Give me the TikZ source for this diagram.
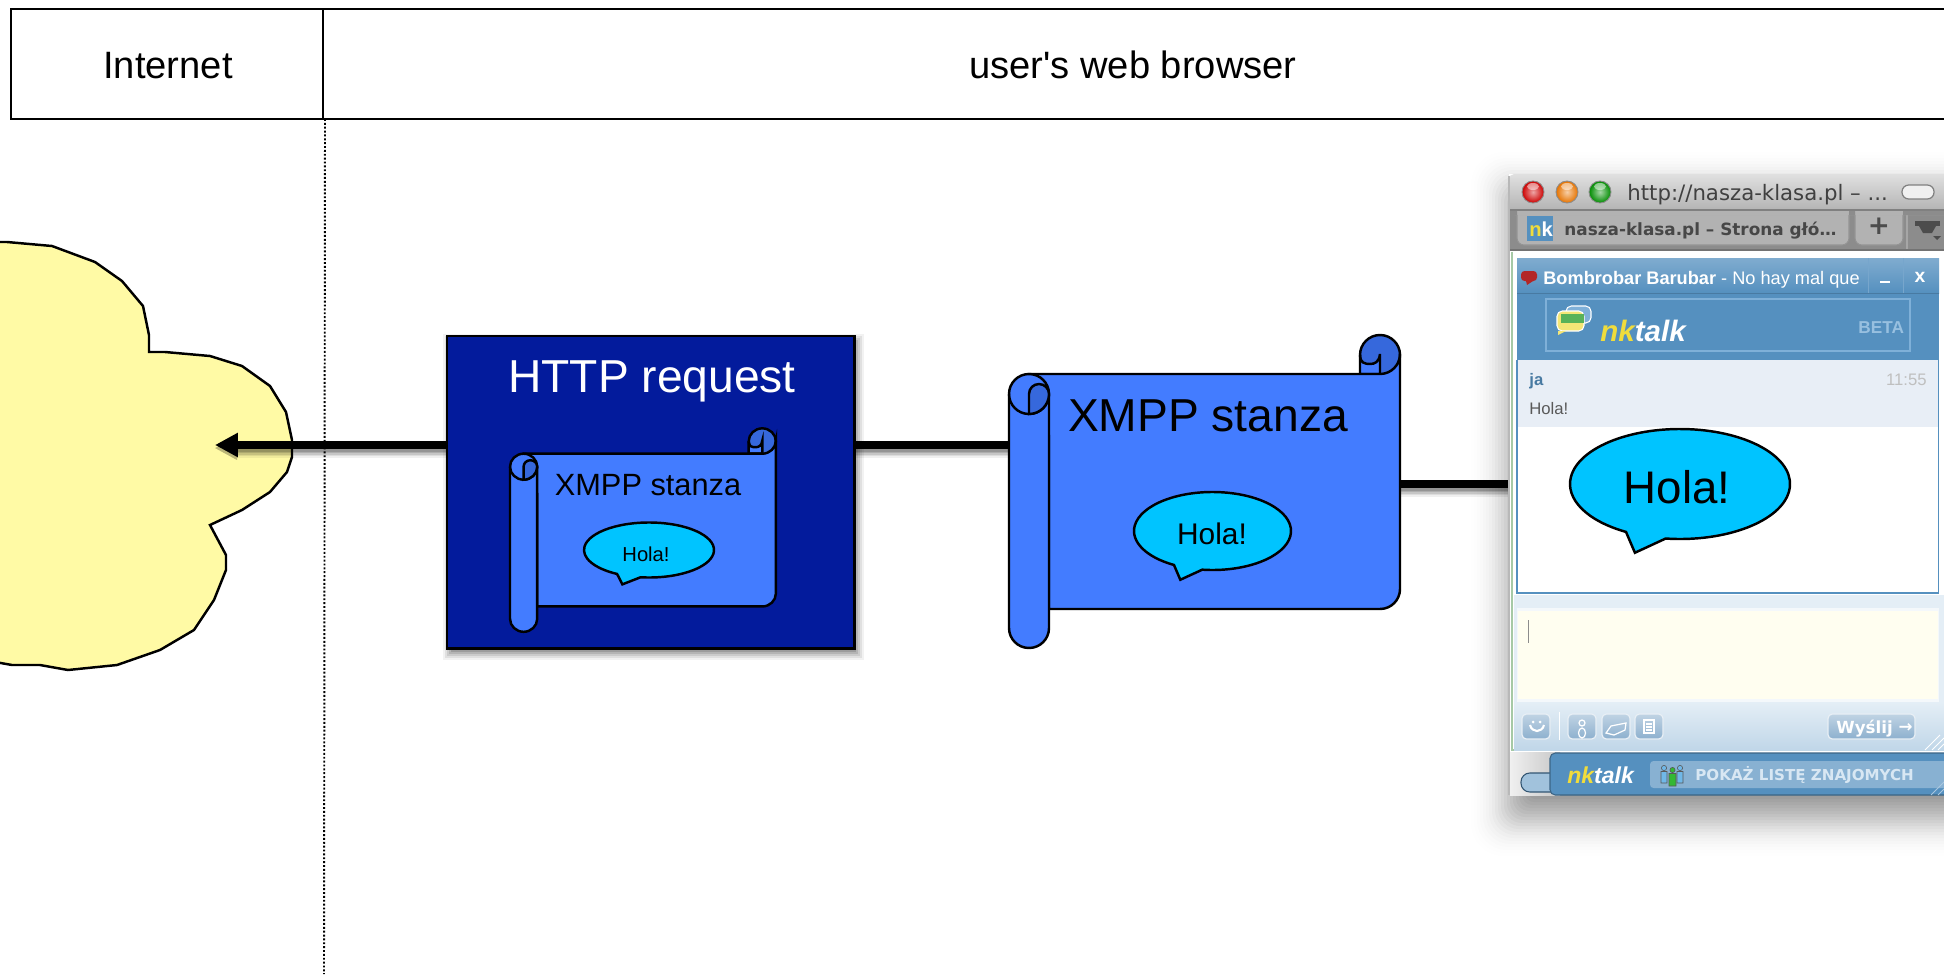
\documentclass[tikz,border=0pt]{standalone}
\usepackage{fontspec}
\setmainfont{Liberation Sans}
\newfontfamily\plainfont{Liberation Sans}
\newfontfamily\uifont{DejaVu Sans}
\usetikzlibrary{arrows.meta,calc}
\definecolor{paperblue}{HTML}{437CFF}
\definecolor{rolldark}{HTML}{3668DC}
\definecolor{bubblecyan}{HTML}{00C4FF}
\definecolor{httpblue}{HTML}{031B9C}
\definecolor{cloudyellow}{HTML}{FFFAA5}
\definecolor{nkblue}{HTML}{5590BF}
\definecolor{nkline}{HTML}{7FB0D8}
\definecolor{nkyellow}{HTML}{F0DC3C}
\definecolor{msgbg}{HTML}{E8EEF6}
\definecolor{band}{HTML}{E4EEF6}
\definecolor{inputbg}{HTML}{FFFEF0}
\definecolor{btnblue}{HTML}{8DB0CE}
\definecolor{personblue}{HTML}{70B8E8}
\newcommand{\fs}[1]{\fontsize{#1pt}{#1pt}\selectfont}
\tikzset{
  ink/.style={draw=black,line width=1.4pt},
  flow/.style={draw=black,line width=4.5pt},
  label/.style={inner sep=0pt,anchor=base,text=black},
  ui/.style={inner sep=0pt,anchor=base west},
  btn/.style={draw=white!80!btnblue,line width=.7pt,rounded corners=2.5pt,top color=btnblue!55,bottom color=btnblue},
  person/.style={draw=black!65,line width=.35pt},
}
% x, y of the top left corner, x scale, y scale
\newcommand{\stanzascroll}[4]{%
  \begin{scope}[shift={(#1,#2)},xscale=#3,yscale=-#4]
    \filldraw[ink,fill=rolldark] (371,-19) circle [radius=20];
    \filldraw[ink,fill=paperblue] (351,-19) .. controls (351,-27) and (356,-28) .. (361,-28)
       .. controls (366,-28) and (370,-26) .. (371,-18) -- (371,-38) -- (351,-38) -- cycle;
    \filldraw[ink,fill=paperblue] (20,-38) -- (371,-38) arc [start angle=270,end angle=360,radius=20]
       -- (391,-253) arc [start angle=0,end angle=-90,radius=20] -- (40,-273) -- (40,-100) -- (20,-100) -- cycle;
    \filldraw[ink,fill=paperblue] (0,-58) -- (0,-292) arc [start angle=180,end angle=360,radius=20]
       -- (40,-58) arc [start angle=0,end angle=180,radius=20] -- cycle;
    \draw[ink] (0,-58) arc [start angle=180,end angle=360,radius=20];
    \filldraw[ink,fill=rolldark] (20,-78) -- (20,-58) arc [start angle=180,end angle=0,radius=10]
       arc [start angle=0,end angle=-90,radius=20] -- cycle;
  \end{scope}}
% centre x, centre y, rx, ry
\newcommand{\speechbubble}[4]{%
  \begin{scope}[shift={(#1,#2)},xscale=#3,yscale=-#4]
    \filldraw[ink,fill=bubblecyan] (262.5:1) arc [start angle=262.5,end angle=600.6,radius=1]
       -- (-.41,-1.25) -- cycle;
  \end{scope}}
\begin{document}
\begin{tikzpicture}[x=.02cm,y=.02cm]
\useasboundingbox (0,0) rectangle (1944,-974);
\clip (0,0) rectangle (1944,-974);
\begin{scope}[yscale=-1]
\fill[white] (0,0) rectangle (1944,974);

% header
\draw[line width=1.4pt] (323,9) rectangle (1960,119);
\node[draw=black,line width=1.4pt,inner sep=0pt,rectangle,minimum width=6.24cm,minimum height=2.2cm] (internetbox) at (167,64) {};
\node[label,font=\fs{21.7}] (internet) at (168,78) {Internet};
\node[label,font=\plainfont\fs{21.7}] (browserhead) at (1133,78) {user's web browser};

% cloud
\filldraw[line width=1.4pt,draw=black,fill=cloudyellow] (-5,242) -- (7,242) -- (52,246) -- (95,262) -- (122,281)
  -- (143,306) -- (149,335) -- (149,352) -- (165,352) -- (210,356) -- (242,366) -- (270,386) -- (286,412)
  -- (292,440) -- (292,457) -- (287,472) -- (270,492) -- (242,510) -- (210,525) -- (226,555) -- (226,570)
  -- (214,600) -- (194,630) -- (160,650) -- (117,665) -- (68,670) -- (40,665) -- (12,665) -- (-5,662) -- cycle;
\coordinate (cloudtip) at (215,445);

% dotted boundary
\coordinate (bound1) at (325,119);
\coordinate (bound2) at (324,974);
\draw[line width=1.1pt,dash pattern=on 1.1pt off 1.1pt,draw=black] (bound1) -- (bound2);

% ports
\coordinate (httpwest) at (447,445);
\coordinate (httpeast) at (854,445);
\coordinate (stanzawest) at (1009,445);
\coordinate (stanzaeast) at (1400,484);
\coordinate (browserwest) at (1509,484);

% connector shadows
\foreach \w/\o in {16/.06,13/.08,10/.10,7/.12,4/.14}{
  \draw[black,opacity=\o,line width=\w*.5669pt] ($(cloudtip)+(22,5)$) -- ($(httpwest)+(0,5)$);
  \draw[black,opacity=\o,line width=\w*.5669pt] ($(httpeast)+(0,5)$) -- ($(stanzawest)+(0,5)$);
  \draw[black,opacity=\o,line width=\w*.5669pt] ($(stanzaeast)+(0,5)$) -- ($(browserwest)+(0,5)$);
  \fill[black,opacity=\o*.6] ($(cloudtip)+(0,3)$) -- ($(cloudtip)+(22,-7)$) -- ($(cloudtip)+(22,15)$) -- cycle;
}
\draw[flow,-{Triangle[length=13pt,width=13pt]}] (httpwest) -- (cloudtip);
\draw[flow] (stanzawest) -- (httpeast);
\draw[flow] (browserwest) -- (stanzaeast);

% http box
\foreach \e/\o in {7/.05,5/.07,3/.09,1/.11,-1/.13,-3/.15}{
  \fill[black,opacity=\o] ($(447,336)+(3-\e,5-\e)$) rectangle ($(854,648)+(3+\e,5+\e)$);
}
\filldraw[line width=1.7pt,draw=black,fill=httpblue] (447,336) rectangle (854,648);
\node[label,text=white,font=\fs{26.3}] (httptitle) at (652,392) {HTTP request};

% inner stanza
\stanzascroll{510}{429}{.68}{.65}
\node[label,font=\fs{17.5}] (innerstanza) at (648,495) {XMPP stanza};
\speechbubble{649}{550}{65}{27.5}
\node[label,font=\fs{11.5}] (innerhola) at (646,561) {Hola!};

% big stanza
\stanzascroll{1009}{336}{1}{1}
\node[label,font=\fs{26.3}] (stanzatitle) at (1208,431) {XMPP stanza};
\speechbubble{1212.5}{531}{78.5}{39}
\node[label,font=\fs{17}] (stanzahola) at (1212,544) {Hola!};

% browser window shadow
\foreach \e/\o in {34/.003,31/.005,28/.007,25/.009,22/.011,19/.013,16/.016,13/.019,10/.022,7/.025,4/.028,1/.03,-2/.03,-5/.03,-8/.03,-11/.03,-14/.03,-17/.03,-20/.03,-23/.03,-26/.03,-29/.03}{
  \fill[black,opacity=\o,rounded corners={(\e+40)*.25pt}] (1505-\e,186-\e) rectangle (2000,822+\e);
}
% window
\fill[white] (1509,174) rectangle (1950,795);
\fill[black!45] (1509,205) rectangle (1950,250);
\filldraw[fill=black!30,draw=black!42,line width=.6pt,rounded corners=4pt] (1517,200) rectangle (1849,245);
\filldraw[fill=black!30,draw=black!42,line width=.6pt,rounded corners=4pt] (1855,200) rectangle (1903,245);
\draw[black!35,line width=.6pt] (1907,210) -- (1907,250);
\draw[black!55,line width=.8pt] (1509,250) -- (1950,250);
\shade[top color=black!12,bottom color=black!32,rounded corners=3pt] (1509,215) -- (1509,174) -- (1960,174) -- (1960,215) -- cycle;
\fill[black!45] (1509,211) rectangle (1517,215) (1849,211) rectangle (1855,215) (1903,211) rectangle (1950,215);
\fill[black!30] (1518,211) rectangle (1848,215) (1856,211) rectangle (1902,215);
\draw[black!50,line width=.8pt] (1509,210) -- (1950,210);

% traffic lights
\foreach \cx/\col in {1533/red!80!black,1567/orange!90!black,1600/green!55!black}{
  \shade[inner color=\col!35!white,outer color=\col] (\cx,192) circle [radius=11];
  \draw[black!45,line width=.5pt] (\cx,192) circle [radius=11];
  \fill[white,opacity=.5] (\cx,186.5) ellipse [x radius=6,y radius=3.5];
}
\node[ui,text=black!75,font=\uifont\fs{12.1}] (urltitle) at (1627,200) {http://nasza-klasa.pl – ...};
\filldraw[fill=black!6,draw=black!50,line width=.7pt,rounded corners=3.8pt] (1902,185) rectangle (1934,199);
% tab bar
\fill[nkblue] (1527,216) rectangle (1553,241);
\node[ui,font=\bfseries\fs{11.5}] (nkicon) at (1529,236) {\textcolor{nkyellow}{n}\textcolor{white}{k}};
\node[ui,text=black!72,font=\uifont\bfseries\fs{9.6}] (tabtitle) at (1564,235) {nasza-klasa.pl – Strona głó…};
\node[label,text=black!70,font=\uifont\bfseries\fs{15}] (plus) at (1879,234) {+};
\fill[black!70] (1915,221) rectangle (1940,226);
\fill[black!70] (1919,226) -- (1936,226) -- (1932,233) -- (1923,233) -- cycle;
\fill[black!70] (1933,236) -- (1941,236) -- (1937,240) -- cycle;

% page
\fill[white] (1512,252) rectangle (1950,750);
\draw[green!40!black!35!white,line width=1pt] (1512,252) -- (1512,750) -- (1950,750);
\draw[black!28,line width=.8pt] (1509,176) -- (1509,795);
% chat header
\fill[nkblue] (1517,258) rectangle (1939,360);
\shade[top color=nkblue!75!white,bottom color=nkblue] (1517,258) rectangle (1939,293);
\draw[nkblue!85!black,line width=.4pt] (1517,293) -- (1939,293);
\draw[nkblue!80!white,line width=.5pt] (1868,258) -- (1868,293) (1903,258) -- (1903,293);
\fill[red!65!black!85!white,rounded corners=2pt] (1521,271) rectangle (1537,281);
\fill[red!65!black!85!white] (1526,281) -- (1533,281) -- (1527,285) -- cycle;
\node[ui,text=white,font=\fs{10.35}] (chattitle) at (1543,284) {\textbf{Bombrobar Barubar} - No hay mal que};
\fill[white] (1880,281) rectangle (1890,283);
\node[label,text=white,font=\bfseries\fs{11}] (closex) at (1920,282) {x};
\draw[nkline,line width=.7pt] (1546,299) rectangle (1910,351);
% logo bubbles
\filldraw[fill=nkline,draw=white,line width=.6pt,rounded corners=3pt] (1566,306) rectangle (1591,323);
\filldraw[fill=nkyellow!70!white,draw=white,line width=.6pt,rounded corners=3pt] (1557,311) rectangle (1584,331);
\fill[nkyellow!70!white] (1558,331) -- (1558,335) -- (1566,331) -- cycle;
\fill[white!50!green!70!black] (1561,314) rectangle (1584,323);
\node[ui,font=\bfseries\itshape\fs{16.8}] (chatlogo) at (1600,341) {\textcolor{nkyellow}{nk}\textcolor{white}{talk}};
\node[ui,text=nkline!80!white,font=\bfseries\fs{9.8}] (betatag) at (1858,333) {BETA};
% messages
\fill[msgbg] (1517,360) rectangle (1938,427);
\node[ui,text=nkblue!85!black,font=\bfseries\fs{9.5}] (janame) at (1529,385) {ja};
\node[inner sep=0pt,anchor=base east,text=black!25,font=\fs{9.5}] (msgtime) at (1927,385) {11:55};
\node[ui,text=black!65,font=\fs{9.5}] (msghola) at (1529,414) {Hola!};
\draw[nkblue,line width=.9pt] (1517,360) -- (1517,593) -- (1938.5,593) -- (1938.5,360);
% big bubble
\speechbubble{1680}{484}{110}{55}
\node[label,font=\fs{26}] (bighola) at (1677,503) {Hola!};
% input
\fill[band] (1514,595) rectangle (1944,750);
\fill[white!60!band] (1517,608) rectangle (1939,702);
\fill[inputbg] (1518,611) rectangle (1938,699);
\fill[black!45] (1527.5,620) rectangle (1529,643);
\shade[top color=band,bottom color=band!75!nkblue] (1514,702) rectangle (1944,750);
\draw[white,line width=.5pt] (1559,712) -- (1559,740);
\foreach \bx in {1522,1568,1602,1635}{\draw[btn] (\bx,714) rectangle ++(28,25);}
\draw[white,line width=1.2pt] (1530,725) .. controls (1532,733) and (1542,733) .. (1544,725);
\fill[white] (1533,722) circle [radius=1.5] (1540,722) circle [radius=1.5];
\draw[white,line width=.7pt] (1582,723) circle [radius=3] (1582,733) ellipse [x radius=3.5,y radius=5];
\draw[white,line width=.7pt] (1606,733) -- (1611,726) -- (1626,723) -- (1625,730) -- (1614,735) -- cycle;
\draw[white,line width=.7pt] (1644,720) rectangle (1654,733) (1646,724) -- (1652,724) (1646,727) -- (1652,727) (1646,730) -- (1652,730);
\draw[btn] (1828,714) rectangle (1915,739);
\node[ui,text=white,font=\bfseries\uifont\fs{9.5}] (sendbtn) at (1836,733) {Wyślij \raisebox{.2pt}{→}};
\draw[white,line width=.5pt] (1925,750) -- (1940,735) (1932,750) -- (1944,738) (1938,750) -- (1944,744);

% bottom strip
\shade[left color=black!6,right color=black!22] (1510,752) rectangle (1560,795);
\filldraw[fill=nkblue!55!white,draw=nkblue!60!black,line width=.6pt,rounded corners=5pt] (1521,773) rectangle (1560,792);
\filldraw[fill=nkblue,draw=nkblue!70!black,line width=.6pt,rounded corners=3pt] (1550,795) -- (1550,753) -- (1960,753) -- (1960,795) -- cycle;
\node[ui,font=\bfseries\itshape\fs{13.1}] (barlogo) at (1567,783) {\textcolor{nkyellow}{nk}\textcolor{white}{talk}};
\fill[nkblue!70!white,rounded corners=2pt] (1650,761) rectangle (1960,788);
\filldraw[person,fill=personblue] (1664,768) circle [radius=2.6] (1661,771.5) rectangle (1667,783);
\filldraw[person,fill=personblue] (1680,768) circle [radius=2.6] (1677,771.5) rectangle (1683,783);
\filldraw[person,fill=green!65!black!80!white] (1672.5,770) circle [radius=2.6] (1669,773.5) rectangle (1676,786);
\node[ui,text=white!70!nkline,font=\uifont\bfseries\fs{8.6}] (listbtn) at (1695,780) {POKAŻ LISTĘ ZNAJOMYCH};
\draw[white!50!nkblue,line width=.5pt] (1931,795) -- (1944,782) (1938,795) -- (1944,789);
\end{scope}
\end{tikzpicture}
\end{document}
